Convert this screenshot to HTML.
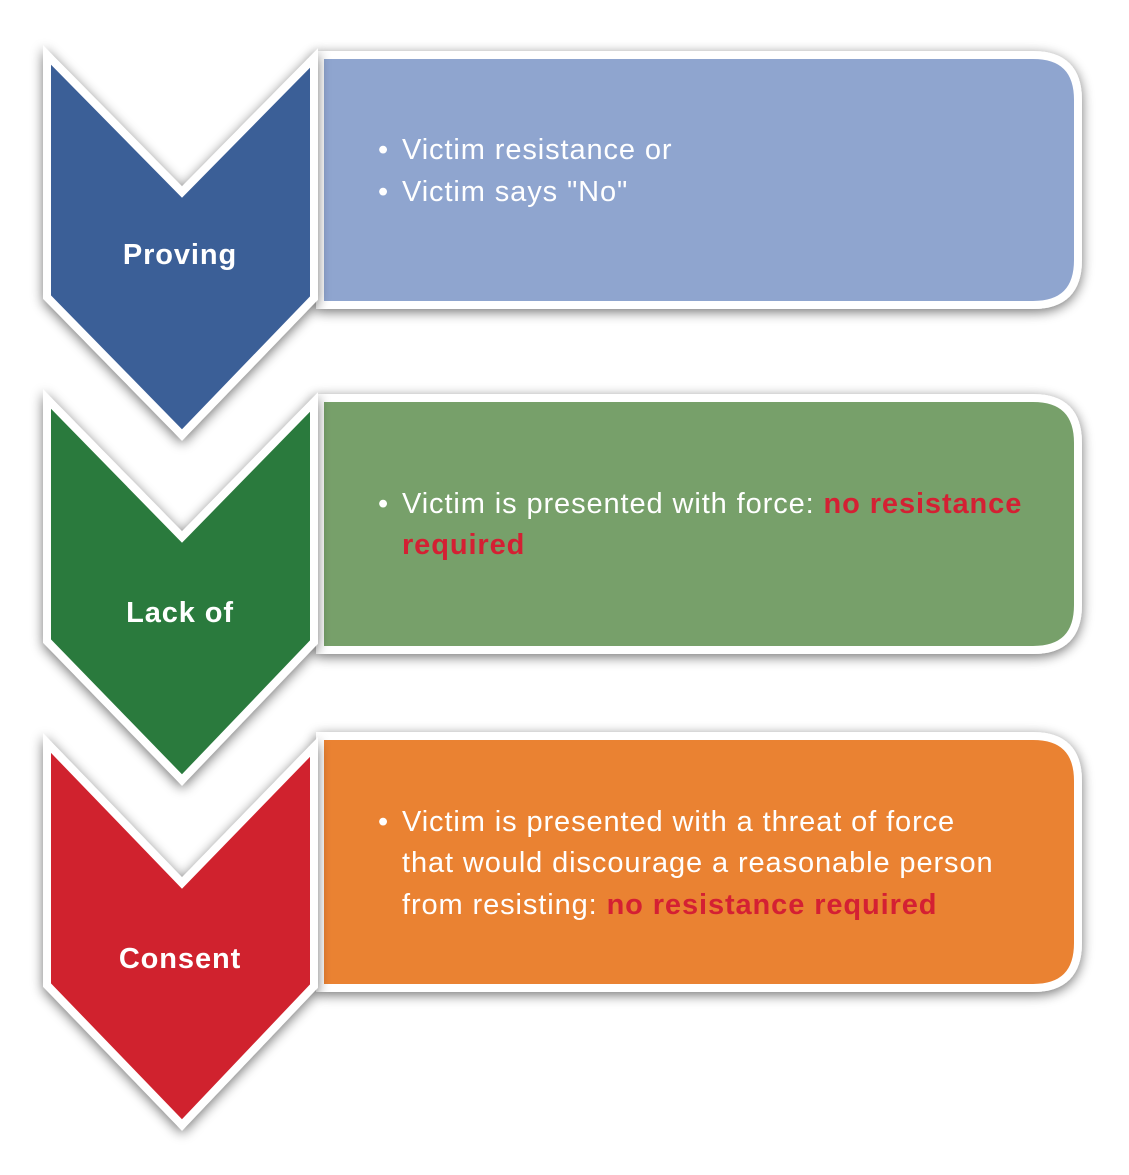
<!DOCTYPE html>
<html><head><meta charset="utf-8"><style>
html,body{margin:0;padding:0;background:#fff;}
svg{display:block;}
text{font-family:"Liberation Sans",sans-serif;}
.b{font-size:29px;letter-spacing:0.9px;}
.l{font-size:29px;font-weight:bold;letter-spacing:0.9px;}
</style></head><body>
<svg width="1129" height="1175" viewBox="0 0 1129 1175" xmlns="http://www.w3.org/2000/svg">
<defs>
<filter id="sh" x="-20%" y="-20%" width="140%" height="140%">
<feGaussianBlur in="SourceAlpha" stdDeviation="6"/>
<feOffset dx="0" dy="3" result="b"/>
<feComponentTransfer><feFuncA type="linear" slope="0.55"/></feComponentTransfer>
<feMerge><feMergeNode/><feMergeNode in="SourceGraphic"/></feMerge>
</filter>
</defs>

<!-- Row 1 -->
<g filter="url(#sh)">
<path d="M320 55 H1033 Q1078 55 1078 100 V260 Q1078 305 1033 305 H320 Z" fill="#8fa5cf" stroke="#fff" stroke-width="8"/>
</g>
<g filter="url(#sh)">
<polygon points="47,55 182,192 314,58 314,298 182,435 47,297" fill="#3b5e97" stroke="#fff" stroke-width="8" stroke-linejoin="miter"/>
</g>
<text x="180" y="264" fill="#fff" class="l" text-anchor="middle">Proving</text>
<text x="378" y="159" fill="#fff" class="b">•<tspan x="402">Victim resistance or</tspan></text>
<text x="378" y="201" fill="#fff" class="b">•<tspan x="402">Victim says "No"</tspan></text>

<!-- Row 2 -->
<g filter="url(#sh)">
<path d="M320 398 H1033 Q1078 398 1078 443 V605 Q1078 650 1033 650 H320 Z" fill="#77a06a" stroke="#fff" stroke-width="8"/>
</g>
<g filter="url(#sh)">
<polygon points="47,399 182,537 314,402 314,642 182,780 47,641" fill="#2a7a3d" stroke="#fff" stroke-width="8" stroke-linejoin="miter"/>
</g>
<text x="180" y="622" fill="#fff" class="l" text-anchor="middle">Lack of</text>
<text x="378" y="513" fill="#fff" class="b">•<tspan x="402">Victim is presented with force: </tspan><tspan fill="#d42033" font-weight="bold">no resistance</tspan></text>
<text x="402" y="554" fill="#d42033" class="l">required</text>

<!-- Row 3 -->
<g filter="url(#sh)">
<path d="M320 736 H1033 Q1078 736 1078 781 V943 Q1078 988 1033 988 H320 Z" fill="#ea8230" stroke="#fff" stroke-width="8"/>
</g>
<g filter="url(#sh)">
<polygon points="47,743 182,883 314,747 314,986 182,1125 47,985" fill="#d0232e" stroke="#fff" stroke-width="8" stroke-linejoin="miter"/>
</g>
<text x="180" y="968" fill="#fff" class="l" text-anchor="middle">Consent</text>
<text x="378" y="831" fill="#fff" class="b">•<tspan x="402">Victim is presented with a threat of force</tspan></text>
<text x="402" y="872" fill="#fff" class="b">that would discourage a reasonable person</text>
<text x="402" y="914" fill="#fff" class="b">from resisting: <tspan fill="#d42033" font-weight="bold">no resistance required</tspan></text>
</svg>
</body></html>
